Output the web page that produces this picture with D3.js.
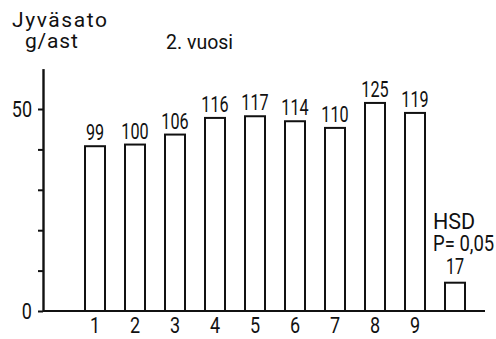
<!DOCTYPE html>
<html>
<head>
<meta charset="utf-8">
<script src="https://cdn.jsdelivr.net/npm/d3@7"></script>
<style>
  html, body { margin: 0; padding: 0; background: #fff; }
  svg { display: block; }
  text { font-family: Roboto, "Liberation Sans", sans-serif; fill: #111; font-weight: 400; }
</style>
</head>
<body>
<svg id="chart" width="496" height="339"></svg>
<script>
// Grain yield by line, second year; labels are relative yields (line 2 = 100)
const lines = ["1", "2", "3", "4", "5", "6", "7", "8", "9"];
const relYield = [99, 100, 106, 116, 117, 114, 110, 125, 119];
const hsdRel = 17;                 // HSD, P = 0.05, in relative units
const baseYield = 41.2;            // g/ast corresponding to relative value 100
const yTicks = [0, 10, 20, 30, 40, 50];
const yTickLabels = { 0: "0", 50: "50" };

const axisX = 43, y0 = 311;
const FONT = "Roboto, 'Liberation Sans', sans-serif";
const NUM_SIZE = 22.5;
const svg = d3.select("#chart");

// narrow the figures to a condensed look by squeezing their measured width
function condense(sel, k) {
  sel.each(function () {
    const w = this.getComputedTextLength();
    if (w > 0) {
      this.setAttribute("textLength", (w * k).toFixed(2));
      this.setAttribute("lengthAdjust", "spacingAndGlyphs");
    }
  });
}

const slots = lines.concat(["HSD"]);
const x = d3.scaleBand().domain(slots).range([75, 475])
  .paddingInner(0.5).paddingOuter(0.25);
const y = d3.scaleLinear().domain([0, 60]).range([y0, y0 - 60 * 4.04]);

const toGrams = r => r * baseYield / 100;

// y axis
const yAxis = d3.axisLeft(y)
  .tickValues(yTicks)
  .tickSize(5)
  .tickSizeOuter(0)
  .tickPadding(6)
  .tickFormat(d => yTickLabels[d] || "");
const gy = svg.append("g").attr("transform", `translate(${axisX},0)`).call(yAxis);
gy.select(".domain").attr("stroke", "#111").attr("stroke-width", 2.4);
gy.selectAll(".tick line").attr("stroke", "#111").attr("stroke-width", 2);
gy.selectAll(".tick text").attr("font-size", NUM_SIZE).attr("fill", "#111")
  .style("font-family", FONT);
condense(gy.selectAll(".tick text"), 0.8);

// baseline
svg.append("line")
  .attr("x1", axisX).attr("x2", 485)
  .attr("y1", y0).attr("y2", y0)
  .attr("stroke", "#111").attr("stroke-width", 2.2);

// x axis labels
const xAxis = d3.axisBottom(x).tickValues(lines).tickSize(0).tickPadding(6);
const gx = svg.append("g").attr("transform", `translate(0,${y0})`).call(xAxis);
gx.select(".domain").remove();
gx.selectAll(".tick text").attr("font-size", NUM_SIZE).attr("fill", "#111")
  .style("font-family", FONT);
condense(gx.selectAll(".tick text"), 0.8);

// bars
const barData = lines.map((k, i) => ({ key: k, rel: relYield[i] }))
  .concat([{ key: "HSD", rel: hsdRel }]);

svg.append("g").selectAll("rect").data(barData).join("rect")
  .attr("x", d => x(d.key))
  .attr("width", x.bandwidth())
  .attr("y", d => y(toGrams(d.rel)))
  .attr("height", d => y0 - y(toGrams(d.rel)))
  .attr("fill", "#fff")
  .attr("stroke", "#111")
  .attr("stroke-width", 2);

// value labels
const vl = svg.append("g").selectAll("text").data(barData).join("text")
  .attr("x", d => x(d.key) + x.bandwidth() / 2)
  .attr("y", d => y(toGrams(d.rel)) - (d.key === "HSD" ? 9 : 6))
  .attr("text-anchor", "middle")
  .attr("font-size", NUM_SIZE)
  .text(d => d.rel);
condense(vl, 0.72);

// HSD caption
svg.append("text").attr("x", 433).attr("y", 229).attr("font-size", 21.5).text("HSD");
svg.append("text")
  .attr("transform", "translate(433,251) scale(0.86,1)")
  .attr("font-size", 21.5)
  .text("P= 0,05");

// y axis title, two lines
const yTitle = svg.append("text").attr("font-size", 21);
yTitle.append("tspan").attr("x", 12).attr("y", 27).attr("letter-spacing", 1.6).text("Jyväsato");
yTitle.append("tspan").attr("x", 25).attr("y", 48).attr("letter-spacing", 0.8).text("g/ast");

svg.append("text").attr("x", 166).attr("y", 49).attr("font-size", 19.5).text("2. vuosi");
</script>
</body>
</html>
